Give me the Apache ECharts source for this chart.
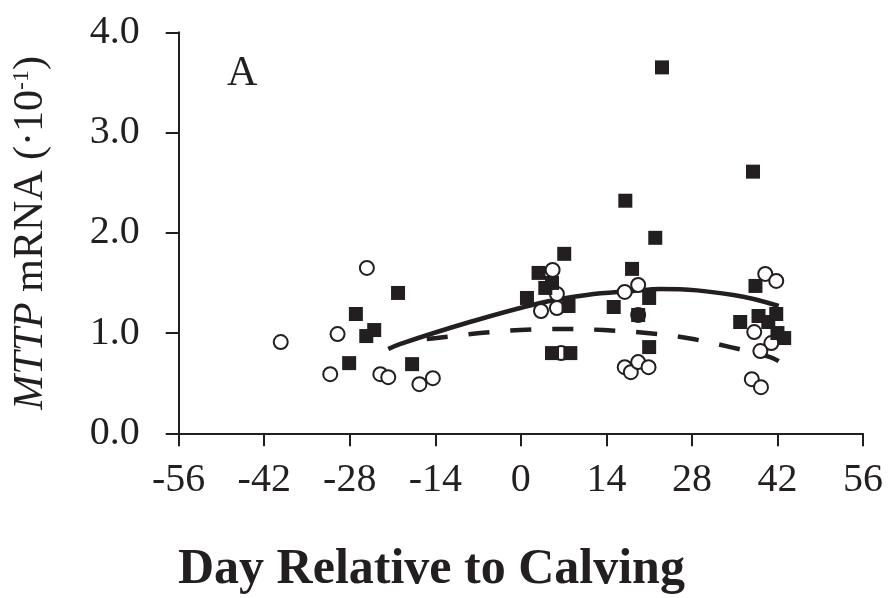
<!DOCTYPE html>
<html>
<head>
<meta charset="utf-8">
<script src="https://cdn.jsdelivr.net/npm/echarts@6/dist/echarts.min.js"></script>
<style>
html,body{margin:0;padding:0;background:#fff;}
#chart{width:890px;height:598px;}
</style>
</head>
<body>
<div id="chart"></div>
<script>
// Open circles
var circleDays = [-39.3, -25.2, -30.0, -31.2, -23.0, -21.7, -16.6, -14.4,
  5.2, 5.9, 3.3, 5.9, 6.6, 17.0, 19.2, 19.2, 17.0, 18.0, 19.2, 20.9,
  40.0, 41.8, 38.2, 41.0, 39.2, 37.8, 39.3];
var circleVals = [0.91, 1.65, 0.99, 0.59, 0.59, 0.56, 0.49, 0.55,
  1.63, 1.39, 1.22, 1.25, 0.80, 1.41, 1.48, 1.18, 0.66, 0.61, 0.71, 0.66,
  1.59, 1.52, 1.01, 0.90, 0.82, 0.54, 0.46];
// Filled squares
var squareDays = [-20.1, -27.0, -24.0, -25.3, -28.1, -17.8,
  7.1, 2.9, 5.1, 4.0, 1.0, 7.8, 5.1, 8.1, 18.2, 15.2, 21.0, 19.2, 21.0, 17.1, 22.0, 23.1,
  38.0, 38.4, 38.9, 41.8, 35.9, 40.5, 42.0, 43.1];
var squareVals = [1.40, 1.19, 1.03, 0.97, 0.70, 0.69,
  1.79, 1.60, 1.50, 1.45, 1.35, 1.27, 0.80, 0.80, 1.64, 1.26, 1.35, 1.18, 0.86, 2.32, 1.95, 3.65,
  2.61, 1.47, 1.17, 1.19, 1.11, 1.11, 1.00, 0.95];
// Fitted curves
var solidDays = [-21.7, -19.8, -8.9, 3.2, 10.8, 18.4, 22.8, 34.8, 42.2];
var solidVals = [0.84, 0.89, 1.10, 1.30, 1.38, 1.42, 1.44, 1.38, 1.27];
var dashDays = [-15.4, -13.8, -6.7, -0.1, 7.0, 13.5, 20.6, 27.2, 34.3, 40.8, 42.2];
var dashVals = [0.94, 0.95, 1.00, 1.03, 1.04, 1.03, 1.00, 0.95, 0.86, 0.76, 0.72];
// Axis ticks
var xTicks = [-56, -42, -28, -14, 0, 14, 28, 42, 56];
var yTicks = ['0.0', '1.0', '2.0', '3.0', '4.0'];

function pairs(xs, ys) { return xs.map(function (x, i) { return [x, ys[i]]; }); }

var ink = '#231f20';
var serif = 'Liberation Serif';

var chart = echarts.init(document.getElementById('chart'));
chart.setOption({
  animation: false,
  backgroundColor: '#fff',
  title: {
    text: 'Day Relative to Calving',
    left: 178,
    top: 545,
    padding: 0,
    textStyle: { fontFamily: serif, fontWeight: 'bold', fontSize: 50, color: ink }
  },
  graphic: [{
    type: 'text', left: 227, top: 53,
    style: { text: 'A', fontFamily: serif, fontSize: 42, fill: ink }
  }],
  grid: { left: 178.7, right: 27, top: 32.3, bottom: 164.7, containLabel: false },
  xAxis: {
    type: 'value', min: xTicks[0], max: xTicks[xTicks.length - 1], interval: 14,
    splitLine: { show: false },
    axisLine: { onZero: false, lineStyle: { color: ink, width: 2 } },
    axisTick: { show: true, length: 13, lineStyle: { color: ink, width: 2 } },
    axisLabel: { margin: 27, fontFamily: serif, fontSize: 40, color: ink,
      formatter: function (v) { return String(v); } }
  },
  yAxis: {
    type: 'value', min: 0, max: 4, interval: 1,
    splitLine: { show: false },
    axisLine: { show: true, onZero: false, lineStyle: { color: ink, width: 2 } },
    axisTick: { show: true, length: 13, lineStyle: { color: ink, width: 2 } },
    axisLabel: { margin: 39, fontFamily: serif, fontSize: 40, color: ink,
      formatter: function (v) { return yTicks[Math.round(v)]; } },
    name: '{i|MTTP} mRNA (·10{s|-1})',
    nameLocation: 'middle',
    nameRotate: 90,
    nameGap: 127,
    nameTextStyle: {
      fontFamily: serif, fontSize: 42, color: ink,
      rich: {
        i: { fontFamily: serif, fontSize: 42, fontStyle: 'italic', color: ink },
        s: { fontFamily: serif, fontSize: 24, color: ink, verticalAlign: 'top' }
      }
    }
  },
  series: [
    { type: 'line', data: pairs(solidDays, solidVals), smooth: 0.4, showSymbol: false, z: 1,
      lineStyle: { color: ink, width: 4.5 } },
    { type: 'line', data: pairs(dashDays, dashVals), smooth: 0.4, showSymbol: false, z: 1,
      lineStyle: { color: ink, width: 4.5, type: [21, 21] } },
    { type: 'scatter', data: pairs(circleDays, circleVals), symbol: 'circle', symbolSize: 14, z: 2,
      itemStyle: { color: '#fff', borderColor: ink, borderWidth: 2, opacity: 1 } },
    { type: 'scatter', data: pairs(squareDays, squareVals), symbol: 'rect', symbolSize: 14, z: 3,
      itemStyle: { color: ink, opacity: 1 } }
  ]
});
</script>
</body>
</html>
